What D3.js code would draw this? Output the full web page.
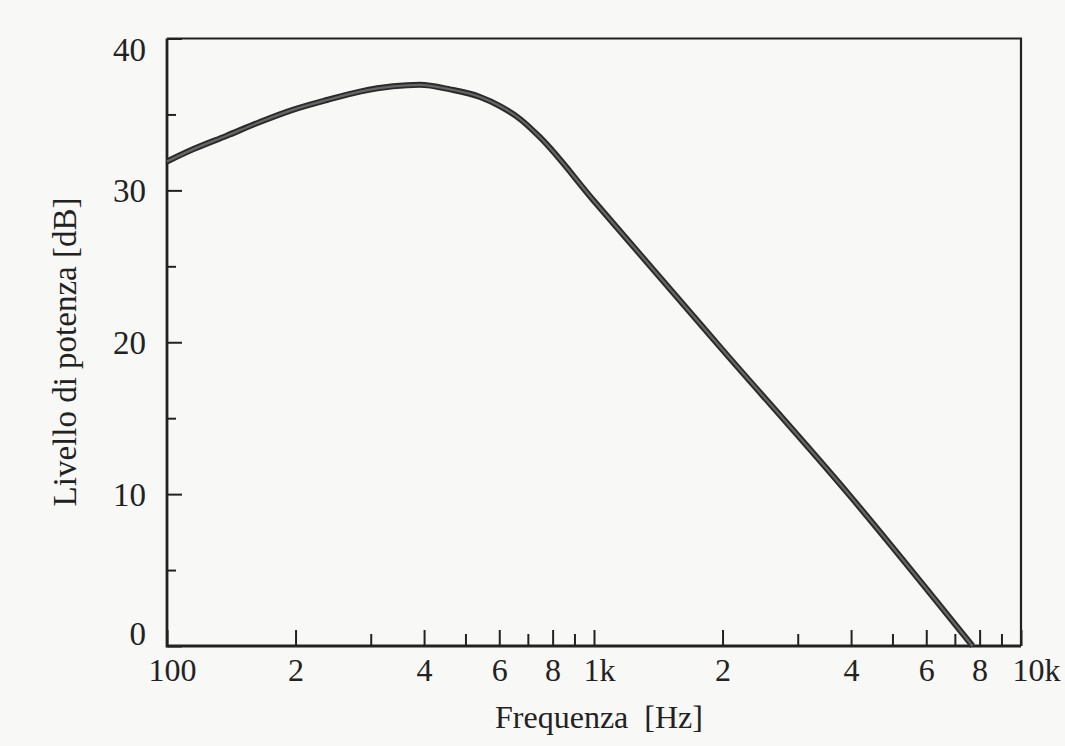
<!DOCTYPE html>
<html>
<head>
<meta charset="utf-8">
<script src="https://cdn.jsdelivr.net/npm/d3@7"></script>
<style>
  html, body { margin: 0; padding: 0; background: #f8f8f6; }
  svg { display: block; }
  text { font-family: "Liberation Serif", "DejaVu Serif", serif; fill: #222; }
</style>
</head>
<body>
<svg id="chart" width="1065" height="746"></svg>
<script>
// ---- data ----
const freqHz = [100, 115, 138, 165, 197, 237, 283, 338, 391, 460, 541, 602, 671, 747, 1000, 2000, 4000, 7700];
const levelDb = [31.9, 32.7, 33.6, 34.5, 35.3, 35.95, 36.5, 36.85, 36.95, 36.65, 36.15, 35.55, 34.7, 33.5, 29.3, 19.5, 9.8, 0];

const xMajorTicks = [100, 200, 400, 600, 800, 1000, 2000, 4000, 6000, 8000, 10000];
const xMajorLabels = ["100", "2", "4", "6", "8", "1k", "2", "4", "6", "8", "10k"];
const xMinorTicks = [300, 500, 700, 900, 3000, 5000, 7000, 9000];
const yMajorTicks = [0, 10, 20, 30, 40];
const yMinorTicks = [5, 15, 25, 35];
const xTitle = "Frequenza  [Hz]";
const yTitle = "Livello di potenza [dB]";

(function () {
  const svg = d3.select("#chart");
  const mLeft = 167, mRight = 1021, mTop = 38.5, mBottom = 646;

  const x = d3.scaleLog().domain([100, 10000]).range([mLeft, mRight]);
  const y = d3.scaleLinear().domain([0, 40]).range([mBottom, mTop]);

  const tickColor = "#222";

  // frame (top and right)
  svg.append("path")
    .attr("d", `M${mLeft},${y(40)} L${mRight},${y(40)} L${mRight},${y(0)}`)
    .attr("fill", "none").attr("stroke", "#222").attr("stroke-width", 2.2);

  // x axis major
  const xAxisMajor = svg.append("g")
    .attr("transform", `translate(0,${y(0)})`)
    .call(d3.axisBottom(x).tickValues(xMajorTicks).tickSize(-16)
      .tickFormat((d, i) => xMajorLabels[i]));
  xAxisMajor.select(".domain").remove();
  xAxisMajor.selectAll(".tick line").attr("stroke", tickColor).attr("stroke-width", 2);
  xAxisMajor.selectAll(".tick text")
    .attr("y", 0).attr("dy", 35)
    .attr("dx", (d, i) => xMajorLabels[i] === "10k" ? 15 : (xMajorLabels[i].length > 1 ? 5 : 0))
    .style("font-size", "32px").attr("fill", "#222");

  // x axis minor
  const xAxisMinor = svg.append("g")
    .attr("transform", `translate(0,${y(0)})`)
    .call(d3.axisBottom(x).tickValues(xMinorTicks).tickSize(-12).tickFormat(""));
  xAxisMinor.select(".domain").remove();
  xAxisMinor.selectAll(".tick line").attr("stroke", tickColor).attr("stroke-width", 2);

  // y axis major
  const yAxisMajor = svg.append("g")
    .attr("transform", `translate(${mLeft},0)`)
    .call(d3.axisLeft(y).tickValues(yMajorTicks).tickSize(-15).tickFormat(d3.format("d")));
  yAxisMajor.select(".domain").remove();
  yAxisMajor.selectAll(".tick line").attr("stroke", tickColor).attr("stroke-width", 2);
  yAxisMajor.selectAll(".tick text")
    .attr("x", -21)
    .attr("dy", d => d === 40 ? "0.68em" : (d === 0 ? "-0.05em" : "0.35em"))
    .style("font-size", "33px").attr("fill", "#222");

  // y axis minor
  const yAxisMinor = svg.append("g")
    .attr("transform", `translate(${mLeft},0)`)
    .call(d3.axisLeft(y).tickValues(yMinorTicks).tickSize(-9).tickFormat(""));
  yAxisMinor.select(".domain").remove();
  yAxisMinor.selectAll(".tick line").attr("stroke", tickColor).attr("stroke-width", 2);

  // left and bottom axis lines
  svg.append("path")
    .attr("d", `M${mLeft},${y(40)} L${mLeft},${y(0)} L${mRight},${y(0)}`)
    .attr("fill", "none").attr("stroke", "#222").attr("stroke-width", 2.8);

  // curve
  const pts = freqHz.map((f, i) => [f, levelDb[i]]);
  const line = d3.line()
    .x(d => x(d[0])).y(d => y(d[1]))
    .curve(d3.curveMonotoneX);

  svg.append("path").datum(pts)
    .attr("d", line).attr("fill", "none")
    .attr("stroke", "#2a2a2a").attr("stroke-width", 6).attr("stroke-linecap", "butt");
  svg.append("path").datum(pts)
    .attr("d", line).attr("fill", "none")
    .attr("stroke", "#666").attr("stroke-width", 2.2).attr("stroke-linecap", "butt");

  // titles
  svg.append("text")
    .attr("x", x(1000) + 5).attr("y", 728)
    .attr("text-anchor", "middle")
    .style("font-size", "32px")
    .style("white-space", "pre")
    .attr("xml:space", "preserve")
    .text(xTitle);

  svg.append("text")
    .attr("transform", `translate(76,352) rotate(-90)`)
    .attr("text-anchor", "middle")
    .style("font-size", "33px")
    .text(yTitle);
})();
</script>
</body>
</html>
